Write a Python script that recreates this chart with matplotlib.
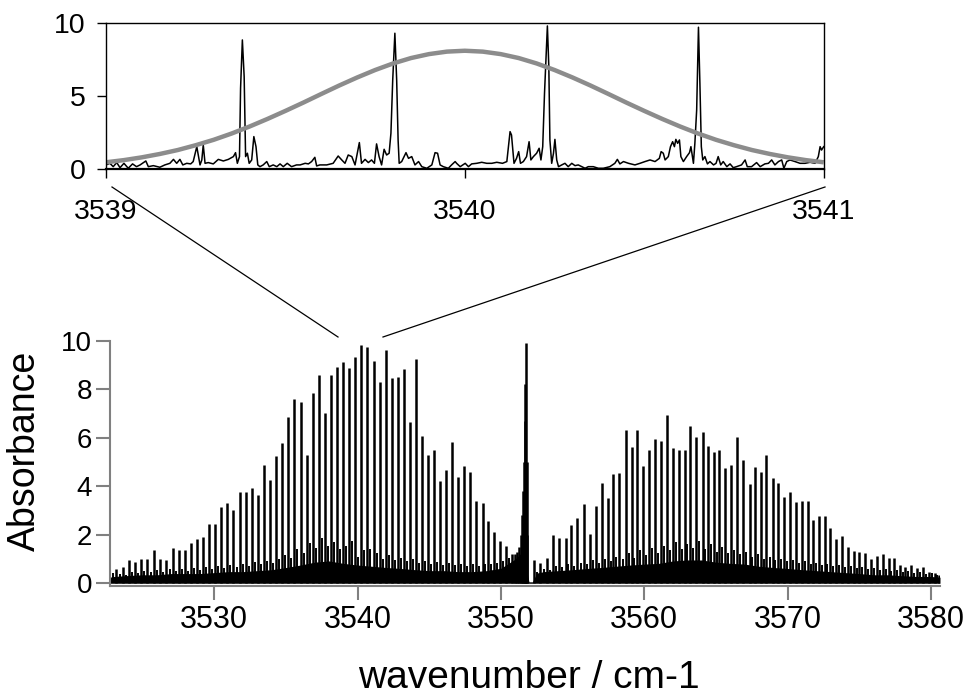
import numpy as np
import matplotlib
matplotlib.use("Agg")
import matplotlib.pyplot as plt
from matplotlib.lines import Line2D

plt.rcParams['font.family'] = ['Liberation Sans', 'DejaVu Sans']

# ---------------- data: main spectrum (wavenumber / cm-1, absorbance) ----------------
p_pos = [3523.16, 3523.63, 3524.05, 3524.49, 3524.91, 3525.33, 3525.79, 3526.21, 3526.65,
         3527.12, 3527.51, 3527.93, 3528.35, 3528.77, 3529.21, 3529.61, 3530.03, 3530.49,
         3530.91, 3531.33, 3531.77, 3532.19, 3532.63, 3533.05, 3533.47, 3533.91, 3534.33,
         3534.75, 3535.17, 3535.58, 3536.03, 3536.45, 3536.86, 3537.31, 3537.73, 3538.14,
         3538.56, 3539.00, 3539.38, 3539.80, 3540.23, 3540.65, 3541.12, 3541.56, 3541.96,
         3542.40, 3542.82, 3543.24, 3543.66, 3544.10, 3544.49, 3544.94, 3545.33, 3545.73,
         3546.17, 3546.59, 3547.01, 3547.42, 3547.87, 3548.26, 3548.73, 3549.10, 3549.52,
         3549.96, 3550.36, 3550.78]
p_height = [0.58, 0.69, 0.94, 0.87, 1.02, 0.99, 1.37, 1.02, 0.94,
            1.44, 1.35, 1.37, 1.65, 1.83, 1.89, 2.43, 2.43, 3.16,
            3.32, 3.02, 3.77, 3.74, 3.91, 3.62, 4.88, 4.26, 5.24,
            5.79, 6.86, 7.59, 7.48, 5.27, 7.83, 8.58, 7.00, 8.58,
            8.92, 9.10, 8.86, 9.31, 9.81, 9.75, 9.17, 8.28, 9.61,
            8.44, 8.51, 8.81, 6.63, 9.24, 6.07, 5.28, 5.49, 4.23,
            4.67, 5.83, 4.39, 4.83, 4.60, 3.40, 3.32, 2.58, 2.13,
            1.75, 1.54, 1.20]

q_pos = [3550.95, 3551.10, 3551.25, 3551.38, 3551.47, 3551.54, 3551.60, 3551.65, 3551.69,
         3551.72, 3551.78, 3551.83]
q_height = [1.20, 1.30, 1.50, 2.00, 2.80, 3.80, 5.00, 6.70, 8.20, 9.90, 5.00, 2.00]

r_pos = [3552.29, 3552.75, 3553.24, 3553.66, 3554.06, 3554.51, 3554.90, 3555.33, 3555.78,
         3556.18, 3556.62, 3557.04, 3557.46, 3557.83, 3558.25, 3558.71, 3559.11, 3559.50,
         3559.94, 3560.34, 3560.73, 3561.17, 3561.59, 3561.99, 3562.41, 3562.82, 3563.20,
         3563.61, 3564.06, 3564.45, 3564.87, 3565.24, 3565.66, 3566.08, 3566.48, 3566.89,
         3567.34, 3567.73, 3568.15, 3568.52, 3568.97, 3569.33, 3569.78, 3570.17, 3570.59,
         3570.99, 3571.41, 3571.80, 3572.18, 3572.59, 3572.97, 3573.38, 3573.78, 3574.20,
         3574.62, 3575.01, 3575.43, 3575.83, 3576.22, 3576.64, 3577.04, 3577.43, 3577.85,
         3578.22, 3578.64, 3579.06, 3579.43, 3579.85, 3580.25, 3580.59]
r_height = [0.96, 0.82, 1.03, 1.99, 1.85, 1.85, 2.42, 2.67, 3.26,
            2.01, 3.17, 4.12, 3.52, 4.51, 4.53, 6.31, 5.60, 6.33,
            4.83, 5.49, 5.93, 5.87, 6.92, 5.59, 5.49, 5.49, 6.49,
            6.04, 6.24, 5.65, 5.42, 5.49, 4.76, 4.87, 6.04, 5.08,
            4.08, 4.80, 4.60, 5.28, 4.32, 4.12, 3.57, 3.77, 3.36,
            3.40, 3.40, 2.61, 2.77, 2.77, 2.26, 1.81, 1.95, 1.51,
            1.34, 1.30, 1.26, 0.99, 1.14, 1.19, 1.03, 1.06, 0.75,
            0.66, 0.75, 0.62, 0.66, 0.48, 0.41, 0.34]

# weaker lines (hot band) lying between the strong rotational lines
weak_p_pos = [3522.95, 3523.40, 3523.84, 3524.27, 3524.70, 3525.12, 3525.56, 3526.00, 3526.43,
              3526.88, 3527.31, 3527.72, 3528.14, 3528.56, 3528.99, 3529.41, 3529.82, 3530.26,
              3530.70, 3531.12, 3531.55, 3531.98, 3532.41, 3532.84, 3533.26, 3533.69, 3534.12,
              3534.54, 3534.96, 3535.37, 3535.80, 3536.24, 3536.65, 3537.08, 3537.52, 3537.93,
              3538.35, 3538.78, 3539.19, 3539.59, 3540.02, 3540.44, 3540.88, 3541.34, 3541.76,
              3542.18, 3542.61, 3543.03, 3543.45, 3543.88, 3544.30, 3544.72, 3545.13, 3545.53,
              3545.95, 3546.38, 3546.80, 3547.21, 3547.64, 3548.06, 3548.50, 3548.91, 3549.31,
              3549.74, 3550.16, 3550.57]
weak_p_height = [0.42, 0.40, 0.35, 0.48, 0.42, 0.52, 0.45, 0.55, 0.48,
                 0.58, 0.50, 0.58, 0.52, 0.62, 0.56, 0.66, 0.60, 0.70,
                 0.64, 0.76, 0.68, 0.80, 0.72, 0.86, 0.78, 0.92, 0.85,
                 1.00, 1.15, 1.05, 1.40, 1.25, 1.65, 1.45, 1.85, 1.55,
                 1.70, 1.40, 1.55, 1.75, 1.10, 1.35, 1.40, 1.25, 1.00,
                 1.15, 0.95, 1.05, 0.90, 0.98, 0.85, 0.92, 0.80, 0.88,
                 0.76, 0.84, 0.74, 0.80, 0.70, 0.78, 0.72, 0.80, 0.78,
                 0.85, 0.92, 1.05]
weak_r_pos = [3552.52, 3553.00, 3553.45, 3553.86, 3554.29, 3554.71, 3555.12, 3555.56, 3555.98,
              3556.40, 3556.83, 3557.25, 3557.65, 3558.04, 3558.48, 3558.91, 3559.31, 3559.72,
              3560.14, 3560.54, 3560.95, 3561.38, 3561.79, 3562.20, 3562.62, 3563.01, 3563.41,
              3563.84, 3564.26, 3564.66, 3565.06, 3565.45, 3565.87, 3566.28, 3566.69, 3567.12,
              3567.54, 3567.94, 3568.34, 3568.75, 3569.15, 3569.56, 3569.98, 3570.38, 3570.79,
              3571.20, 3571.61, 3571.99, 3572.39, 3572.78, 3573.18, 3573.58, 3573.99, 3574.41,
              3574.82, 3575.22, 3575.63, 3576.03, 3576.43, 3576.84, 3577.24, 3577.64, 3578.04,
              3578.43, 3578.85, 3579.25, 3579.64, 3580.05, 3580.42]
weak_r_height = [0.45, 0.60, 0.55, 0.70, 0.65, 0.80, 0.72, 0.85, 0.78,
                 0.95, 0.85, 1.00, 0.90, 1.10, 1.00, 1.25, 1.05, 1.35,
                 1.15, 1.45, 1.25, 1.55, 1.35, 1.70, 1.40, 1.60, 1.45,
                 1.75, 1.40, 1.60, 1.30, 1.50, 1.25, 1.35, 1.20, 1.30,
                 1.10, 1.20, 1.00, 1.10, 0.95, 1.00, 0.90, 0.95, 0.85,
                 0.90, 0.80, 0.85, 0.75, 0.80, 0.70, 0.75, 0.68, 0.70,
                 0.62, 0.66, 0.58, 0.62, 0.55, 0.58, 0.50, 0.54, 0.48,
                 0.50, 0.44, 0.46, 0.40, 0.42, 0.36]

# dense forest of very weak lines: solid dark band level
band_pos = [3522.7, 3523, 3524, 3525, 3526, 3527, 3528, 3529, 3530, 3531, 3532, 3533, 3534,
            3535, 3536, 3537, 3538, 3539, 3540, 3541, 3542, 3543, 3544, 3545, 3546,
            3547, 3548, 3549, 3550, 3551, 3551.5, 3551.8, 3551.95, 3552.2, 3552.5, 3553,
            3554, 3555, 3556, 3557, 3558, 3559, 3560, 3561, 3562, 3563, 3564, 3565,
            3566, 3567, 3568, 3569, 3570, 3571, 3572, 3573, 3574, 3575, 3576, 3577,
            3578, 3579, 3580, 3580.63]
band_level = [0.25, 0.28, 0.32, 0.35, 0.35, 0.40, 0.40, 0.40, 0.44, 0.48, 0.48, 0.52, 0.56,
              0.65, 0.75, 0.87, 0.92, 0.82, 0.75, 0.70, 0.65, 0.61, 0.56, 0.52, 0.52,
              0.48, 0.48, 0.52, 0.62, 1.00, 1.30, 0.50, 0.06, 0.06, 0.42, 0.48,
              0.52, 0.56, 0.61, 0.65, 0.70, 0.75, 0.79, 0.82, 0.92, 0.96, 0.96, 0.87,
              0.82, 0.79, 0.70, 0.65, 0.61, 0.56, 0.52, 0.48, 0.44, 0.40, 0.35, 0.35,
              0.31, 0.28, 0.28, 0.25]

main_xticks = [3530, 3540, 3550, 3560, 3570, 3580]
main_xticklabels = ['3530', '3540', '3550', '3560', '3570', '3580']
main_yticks = [0, 2, 4, 6, 8, 10]
main_yticklabels = ['0', '2', '4', '6', '8', '10']

# ---------------- data: inset (3539 - 3541 cm-1) ----------------
inset_x = [3539.000, 3539.011, 3539.020, 3539.030, 3539.039, 3539.050, 3539.062, 3539.074,
           3539.085, 3539.095, 3539.111, 3539.118, 3539.132, 3539.150, 3539.164, 3539.178,
           3539.188, 3539.197, 3539.206, 3539.214, 3539.225, 3539.236, 3539.243, 3539.253,
           3539.258, 3539.262, 3539.267, 3539.271, 3539.276, 3539.285, 3539.299, 3539.313,
           3539.327, 3539.341, 3539.355, 3539.361, 3539.366, 3539.372, 3539.375, 3539.380,
           3539.385, 3539.389, 3539.394, 3539.399, 3539.406, 3539.412, 3539.418, 3539.423,
           3539.429, 3539.438, 3539.448, 3539.455, 3539.466, 3539.476, 3539.485, 3539.494,
           3539.505, 3539.517, 3539.531, 3539.541, 3539.555, 3539.564, 3539.573, 3539.582,
           3539.587,
           3539.596, 3539.615, 3539.633, 3539.647, 3539.657, 3539.666, 3539.675, 3539.685,
           3539.694, 3539.706, 3539.712, 3539.722, 3539.731, 3539.740, 3539.748, 3539.754,
           3539.761, 3539.768, 3539.775, 3539.782, 3539.789, 3539.794, 3539.799, 3539.805,
           3539.810, 3539.814, 3539.817, 3539.824, 3539.836, 3539.843, 3539.852, 3539.861,
           3539.871, 3539.880, 3539.894, 3539.908, 3539.917, 3539.924, 3539.931, 3539.940,
           3539.954, 3539.963, 3539.973, 3539.977, 3539.987, 3540.001, 3540.010, 3540.019,
           3540.033, 3540.047, 3540.061, 3540.075, 3540.089, 3540.105, 3540.117, 3540.126,
           3540.130, 3540.137, 3540.144, 3540.150, 3540.155, 3540.163, 3540.172, 3540.179,
           3540.184, 3540.191, 3540.200, 3540.207, 3540.212, 3540.217, 3540.222, 3540.226,
           3540.230, 3540.234, 3540.237, 3540.242, 3540.247, 3540.251, 3540.256, 3540.261,
           3540.270, 3540.279, 3540.288, 3540.298, 3540.307, 3540.316, 3540.326, 3540.335,
           3540.344, 3540.358, 3540.372, 3540.386, 3540.404, 3540.418, 3540.425, 3540.432,
           3540.442, 3540.456,
           3540.474, 3540.488, 3540.502, 3540.516, 3540.530, 3540.542, 3540.547, 3540.553,
           3540.558, 3540.567, 3540.573, 3540.579, 3540.584, 3540.588, 3540.593, 3540.598,
           3540.602, 3540.609, 3540.618, 3540.626, 3540.630, 3540.637, 3540.641, 3540.646,
           3540.651, 3540.655, 3540.659, 3540.663, 3540.669, 3540.676, 3540.683, 3540.693,
           3540.700, 3540.706, 3540.713, 3540.720, 3540.730, 3540.739, 3540.748, 3540.757,
           3540.771, 3540.781, 3540.787, 3540.799, 3540.813, 3540.823, 3540.836, 3540.846,
           3540.855, 3540.864, 3540.874, 3540.883, 3540.889, 3540.897, 3540.906, 3540.920,
           3540.934, 3540.948, 3540.962, 3540.976, 3540.985, 3540.990, 3540.994, 3541.000]
inset_y = [0.30, 0.41, 0.18, 0.46, 0.11, 0.41, 0.07, 0.37,
           0.18, 0.30, 0.57, 0.18, 0.25, 0.14, 0.30, 0.41,
           0.68, 0.41, 0.68, 0.30, 0.41, 0.37, 0.53, 1.55,
           0.87, 0.30, 0.64, 1.67, 0.41, 0.46, 0.37, 0.68,
           0.57, 0.68, 0.87, 1.14, 0.41, 0.87, 5.55, 8.86,
           6.35, 0.87, 1.10, 0.41, 0.64, 2.24, 1.55, 0.30,
           0.18, 0.30, 0.53, 0.18, 0.30, 0.18, 0.37, 0.18,
           0.41, 0.18, 0.30, 0.30, 0.41, 0.37, 0.53, 0.82,
           0.23,
           0.30, 0.30, 0.41, 0.91, 0.64, 0.41, 0.98, 0.87,
           0.30, 1.83, 0.41, 0.68, 0.46, 0.64, 0.41, 1.74,
           0.87, 0.30, 1.37, 0.98, 1.10, 2.47, 6.12, 9.32,
           6.12, 2.01, 0.41, 0.53, 1.14, 0.75, 0.87, 0.30,
           0.53, 0.18, 0.07, 0.30, 1.14, 1.10, 0.30, 0.18,
           0.07, 0.30, 0.53, 0.41, 0.18, 0.41, 0.18, 0.37,
           0.41, 0.48, 0.41, 0.41, 0.48, 0.41, 0.53, 2.58,
           2.35, 0.41, 0.75, 1.21, 0.41, 0.53, 0.87, 1.89,
           0.64, 0.87, 1.10, 1.44, 0.64, 1.55, 5.21, 7.49,
           9.82, 7.03, 2.01, 0.41, 1.10, 2.05, 0.64, 0.18,
           0.30, 0.41, 0.18, 0.41, 0.25, 0.30, 0.18, 0.07,
           0.18, 0.18, 0.07, 0.07, 0.18, 0.41, 0.68, 0.37,
           0.53, 0.41,
           0.30, 0.41, 0.53, 0.64, 0.53, 0.75, 1.21, 1.10,
           0.64, 0.87, 1.55, 1.89, 1.55, 2.05, 1.78, 2.01,
           0.87, 0.53, 0.87, 1.14, 1.55, 0.41, 1.78, 4.06,
           9.73, 5.89, 1.55, 0.64, 0.87, 0.37, 0.53, 0.30,
           0.41, 0.87, 0.30, 0.53, 0.18, 0.37, 0.11, 0.18,
           0.30, 0.64, 0.18, 0.18, 0.46, 0.18, 0.37, 0.41,
           0.64, 0.30, 0.53, 0.64, 0.07, 0.53, 0.64, 0.53,
           0.41, 0.41, 0.48, 0.41, 0.87, 1.55, 1.32, 1.55]

envelope_x = [3539.00, 3539.05, 3539.10, 3539.15, 3539.20, 3539.25, 3539.30, 3539.35,
              3539.40, 3539.45, 3539.50, 3539.55, 3539.60, 3539.65, 3539.70, 3539.75,
              3539.80, 3539.85, 3539.90, 3539.95, 3540.00, 3540.05, 3540.10, 3540.15,
              3540.20, 3540.25, 3540.30, 3540.35, 3540.40, 3540.45, 3540.50, 3540.55,
              3540.60, 3540.65, 3540.70, 3540.75, 3540.80, 3540.85, 3540.90, 3540.95,
              3541.00]
envelope_y = [0.48, 0.63, 0.82, 1.05, 1.32, 1.65, 2.02, 2.45, 2.93, 3.45, 4.00, 4.57,
              5.16, 5.74, 6.29, 6.80, 7.25, 7.62, 7.89, 8.06, 8.12, 8.06, 7.89, 7.62,
              7.25, 6.80, 6.29, 5.74, 5.16, 4.57, 4.00, 3.45, 2.93, 2.45, 2.02, 1.65,
              1.32, 1.05, 0.82, 0.63, 0.48]

inset_xticks = [3539, 3540, 3541]
inset_xticklabels = ['3539', '3540', '3541']
inset_yticks = [0, 5, 10]
inset_yticklabels = ['0', '5', '10']

# ---------------- figure ----------------
W, H = 965, 698
fig = plt.figure(figsize=(W / 100, H / 100), dpi=100)

ax = fig.add_axes([110 / W, 1 - 585.7 / H, 830 / W, 245.2 / H])
ax.fill_between(band_pos, 0, band_level, color='black', lw=0)
ax.vlines(weak_p_pos, 0, weak_p_height, color='black', lw=1.4)
ax.vlines(weak_r_pos, 0, weak_r_height, color='black', lw=1.4)
ax.vlines(p_pos, 0, p_height, color='black', lw=1.8)
ax.vlines(q_pos, 0, q_height, color='black', lw=1.8)
ax.vlines(r_pos, 0, r_height, color='black', lw=1.8)
ax.set_xlim(3522.72, 3580.63)
ax.set_ylim(-0.1, 10)
for s in ['top', 'right']:
    ax.spines[s].set_visible(False)
for s in ['left', 'bottom']:
    ax.spines[s].set_color('#808080')
    ax.spines[s].set_linewidth(1.5)
ax.set_xticks(main_xticks)
ax.set_xticklabels(main_xticklabels)
ax.set_yticks(main_yticks)
ax.set_yticklabels(main_yticklabels)
ax.tick_params(axis='both', direction='out', length=10, width=1.5, color='#808080')
ax.tick_params(axis='x', labelsize=22, pad=4)
ax.tick_params(axis='y', labelsize=20, pad=3)

fig.text(25 / W, 1 - 451 / H, 'Absorbance', rotation=90, ha='center', va='center', fontsize=27)
fig.text(529 / W, 1 - 688 / H, 'wavenumber / cm-1', ha='center', va='baseline', fontsize=28)

axi = fig.add_axes([106 / W, 1 - 169.3 / H, 717.7 / W, 146 / H])
axi.plot(inset_x, inset_y, color='black', lw=1.1)
axi.plot(envelope_x, envelope_y, color='#8c8c8c', lw=3.2, solid_capstyle='butt')
axi.set_xlim(3539, 3541)
axi.set_ylim(0, 10)
axi.set_xticks(inset_xticks)
axi.set_xticklabels(inset_xticklabels)
axi.set_yticks(inset_yticks)
axi.set_yticklabels(inset_yticklabels)
for s in axi.spines.values():
    s.set_color('black')
    s.set_linewidth(1.0)
axi.spines['bottom'].set_linewidth(1.6)
axi.tick_params(axis='both', direction='out', length=6.5, width=1.0, color='black', labelsize=20.5)
axi.tick_params(axis='x', pad=15)
axi.tick_params(axis='y', pad=8)

# zoom connector lines
fig.add_artist(Line2D([112 / W, 338 / W], [1 - 187 / H, 1 - 337 / H],
                      transform=fig.transFigure, color='black', lw=0.9))
fig.add_artist(Line2D([825 / W, 383 / W], [1 - 187 / H, 1 - 337 / H],
                      transform=fig.transFigure, color='black', lw=0.9))

fig.savefig('out.png', dpi=100)
